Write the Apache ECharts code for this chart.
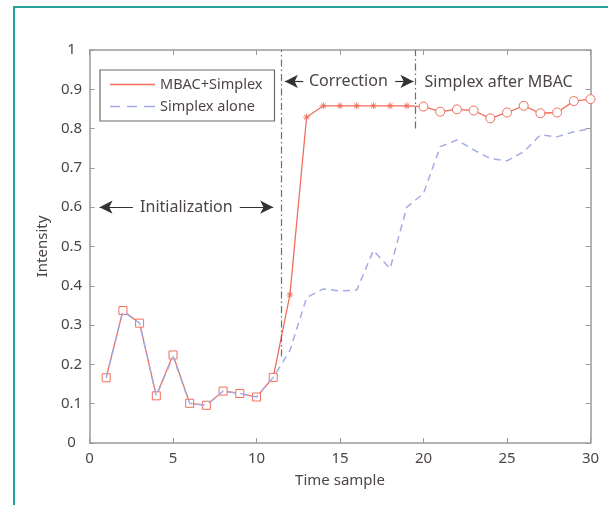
<!DOCTYPE html>
<html>
<head>
<meta charset="utf-8">
<script src="https://cdn.jsdelivr.net/npm/echarts@6/dist/echarts.min.js"></script>
<style>
  html, body { margin: 0; padding: 0; background: #fff; }
  #chart { width: 608px; height: 505px; }
</style>
</head>
<body>
<div id="chart"></div>
<script>
// time samples
const timeSamples = [1, 2, 3, 4, 5, 6, 7, 8, 9, 10, 11, 12, 13, 14, 15, 16, 17, 18, 19, 20,
  21, 22, 23, 24, 25, 26, 27, 28, 29, 30]

const mbacSimplex = [0.166, 0.337, 0.305, 0.120, 0.224, 0.101, 0.096, 0.132, 0.126, 0.117,
  0.167, 0.377, 0.829, 0.858, 0.858, 0.858, 0.858, 0.858, 0.858, 0.856,
  0.843, 0.849, 0.846, 0.826, 0.841, 0.858, 0.839, 0.841, 0.870, 0.875]

const simplexAlone = [0.166, 0.335, 0.305, 0.120, 0.220, 0.101, 0.096, 0.132, 0.126, 0.117,
  0.167, 0.235, 0.370, 0.392, 0.387, 0.389, 0.490, 0.444, 0.600, 0.635,
  0.754, 0.771, 0.746, 0.724, 0.718, 0.741, 0.784, 0.779, 0.792, 0.800]

// phase boundaries (time sample) and where their guide lines start
const initEnd = 11.5
const correctionEnd = 19.5
const initLineFrom = 0.22
const correctionLineFrom = 0.8

const xTicks = [0, 5, 10, 15, 20, 25, 30]
const yTicks = [0, 0.1, 0.2, 0.3, 0.4, 0.5, 0.6, 0.7, 0.8, 0.9, 1]

const RED = '#f06e5c'
const BLUE = '#a4abe6'
const TEXT = '#4d4448'
const AXIS = '#9a9a9a'
const FONT = 'Noto Sans'

const STAR = 'path://M4.4,0h1.2v10h-1.2z M0,4.4h10v1.2h-10z M1.2,2l0.8-0.8l6.8,6.8l-0.8,0.8z M8,1.2l0.8,0.8l-6.8,6.8l-0.8-0.8z'

const redData = timeSamples.map((t, i) => {
  if (t < initEnd) {
    return {value: [t, mbacSimplex[i]], symbol: 'rect', symbolSize: 8,
      itemStyle: {color: '#fff', borderColor: RED, borderWidth: 1}}
  }
  if (t < correctionEnd) {
    return {value: [t, mbacSimplex[i]], symbol: STAR, symbolSize: 7,
      itemStyle: {color: RED, borderWidth: 0}}
  }
  return {value: [t, mbacSimplex[i]], symbol: 'circle', symbolSize: 9,
    itemStyle: {color: '#fff', borderColor: RED, borderWidth: 1}}
})

const blueData = timeSamples.map((t, i) => [t, simplexAlone[i]])

const arrow = (from, to) => [{coord: from}, {coord: to}]

const axisBase = {
  type: 'value',
  min: 0,
  axisLine: {show: true, onZero: false, lineStyle: {color: AXIS, width: 1.5}},
  axisTick: {show: true, inside: true, length: 5, lineStyle: {color: AXIS, width: 1}},
  splitLine: {show: false}
}

const chart = echarts.init(document.getElementById('chart'))

chart.setOption({
  animation: false,
  backgroundColor: '#fff',
  textStyle: {fontFamily: FONT},
  graphic: [{
    type: 'rect',
    z: -1,
    shape: {x: 14, y: 7, width: 700, height: 600},
    style: {fill: 'none', stroke: '#24a09b', lineWidth: 2}
  }],
  grid: {left: 89.5, right: 17.5, top: 50, bottom: 62},
  legend: {
    orient: 'vertical',
    left: 100,
    top: 70,
    data: [
      {name: 'MBAC+Simplex', icon: 'path://M0,0h45v1.6h-45z'},
      {name: 'Simplex alone', icon: 'path://M0,0h10v1.6h-10z M17,0h10v1.6h-10z M34,0h11v1.6h-11z'}
    ],
    itemWidth: 45,
    itemHeight: 1.6,
    itemGap: 7,
    padding: [7, 12, 7, 10],
    borderColor: '#6a6a6a',
    borderWidth: 1.2,
    backgroundColor: '#fff',
    textStyle: {fontFamily: FONT, fontSize: 14.5, color: TEXT}
  },
  xAxis: [
    Object.assign({}, axisBase, {
      max: 30,
      interval: 5,
      name: 'Time sample',
      nameLocation: 'middle',
      nameGap: 30,
      nameTextStyle: {fontFamily: FONT, fontSize: 15, color: TEXT},
      axisLabel: {fontFamily: FONT, fontSize: 15, color: TEXT, margin: 8,
        formatter: v => xTicks.includes(v) ? String(v) : ''}
    }),
    Object.assign({}, axisBase, {max: 30, interval: 5, position: 'top', axisLabel: {show: false}})
  ],
  yAxis: [
    Object.assign({}, axisBase, {
      max: 1,
      interval: 0.1,
      name: 'Intensity',
      nameLocation: 'middle',
      nameGap: 36,
      nameTextStyle: {fontFamily: FONT, fontSize: 15, color: TEXT},
      axisLabel: {fontFamily: FONT, fontSize: 15, color: TEXT, margin: 18, align: 'center',
        formatter: v => {
          const t = yTicks.find(y => Math.abs(y - v) < 1e-6)
          return t === undefined ? '' : String(t)
        }}
    }),
    Object.assign({}, axisBase, {max: 1, interval: 0.1, position: 'right', axisLabel: {show: false}})
  ],
  series: [
    {
      name: 'MBAC+Simplex',
      type: 'line',
      data: redData,
      z: 2,
      lineStyle: {color: RED, width: 1.3},
      itemStyle: {color: RED},
      markLine: {
        silent: true,
        symbol: ['none', 'none'],
        label: {show: false},
        lineStyle: {color: '#6e6e6e', width: 1.2, type: [7, 3, 1.5, 3]},
        data: [
          arrow([initEnd, initLineFrom], [initEnd, 1]),
          arrow([correctionEnd, correctionLineFrom], [correctionEnd, 1])
        ]
      },
      markPoint: {
        silent: true,
        symbol: 'rect',
        symbolSize: 1,
        itemStyle: {color: 'rgba(0,0,0,0)'},
        label: {show: true, position: 'inside', formatter: '{b}',
          fontFamily: FONT, fontSize: 16, color: TEXT},
        data: [
          {name: 'Initialization', coord: [5.8, 0.6]},
          {name: 'Correction', coord: [15.5, 0.92]},
          {name: 'Simplex after MBAC', coord: [24.5, 0.918]}
        ]
      }
    },
    {
      name: 'Simplex alone',
      type: 'line',
      data: blueData,
      z: 3,
      symbol: 'none',
      lineStyle: {color: BLUE, width: 1.5, type: [7, 5]},
      itemStyle: {color: BLUE},
      markLine: {
        silent: true,
        symbol: ['none', 'arrow'],
        symbolSize: [10, 13],
        label: {show: false},
        lineStyle: {color: '#333', width: 1.2, type: 'solid'},
        itemStyle: {color: '#222'},
        data: [
          arrow([2.6, 0.6], [0.6, 0.6]),
          arrow([9.0, 0.6], [11.0, 0.6]),
          arrow([12.8, 0.92], [11.7, 0.92]),
          arrow([18.3, 0.92], [19.4, 0.92])
        ]
      }
    }
  ]
})
</script>
</body>
</html>
